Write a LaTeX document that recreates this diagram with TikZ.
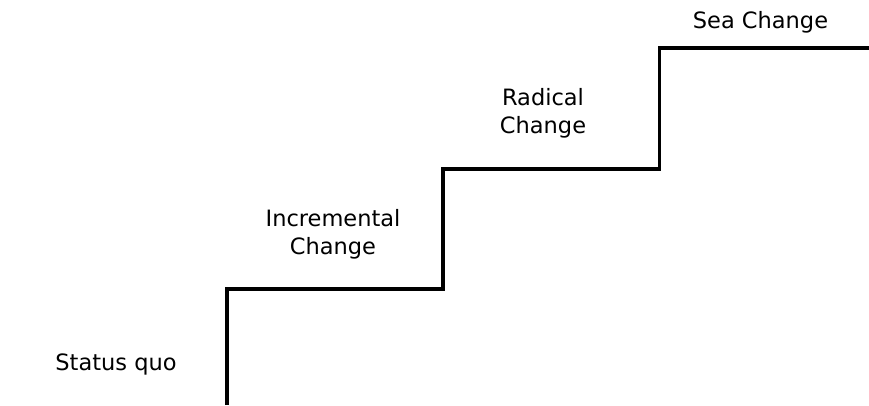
\documentclass[tikz,border=0pt]{standalone}
\usepackage{fontspec}
\setmainfont{DejaVu Sans}
\begin{document}
\begin{tikzpicture}[x=1pt,y=1pt,
  stair/.style={line width=3.2pt,line join=miter,black},
  lbl/.style={inner sep=0pt,align=center,font=\fontsize{22.5}{28}\selectfont}]
  \useasboundingbox (0,0) rectangle (869,405);
  % corners of the staircase
  \coordinate (s0) at (227,0);
  \coordinate (s1) at (227,116);
  \coordinate (s2) at (443,116);
  \coordinate (s3) at (443,236);
  \coordinate (s4) at (659.5,236);
  \coordinate (s5) at (659.5,357);
  \coordinate (s6) at (869,357);
  \draw[stair] (s0) -- (s1) -- (s2) -- (s3) -- (s4) -- (s5) -- (s6);
  % stage labels
  \node[lbl,anchor=base] (quo) at (116,35) {Status quo};
  \node[lbl,anchor=north] (inc) at (333,195.4) {Incremental\\Change};
  \node[lbl,anchor=north] (rad) at (543,317) {Radical\\Change};
  \node[lbl,anchor=base] (sea) at (760.5,376.5) {Sea Change};
\end{tikzpicture}
\end{document}
